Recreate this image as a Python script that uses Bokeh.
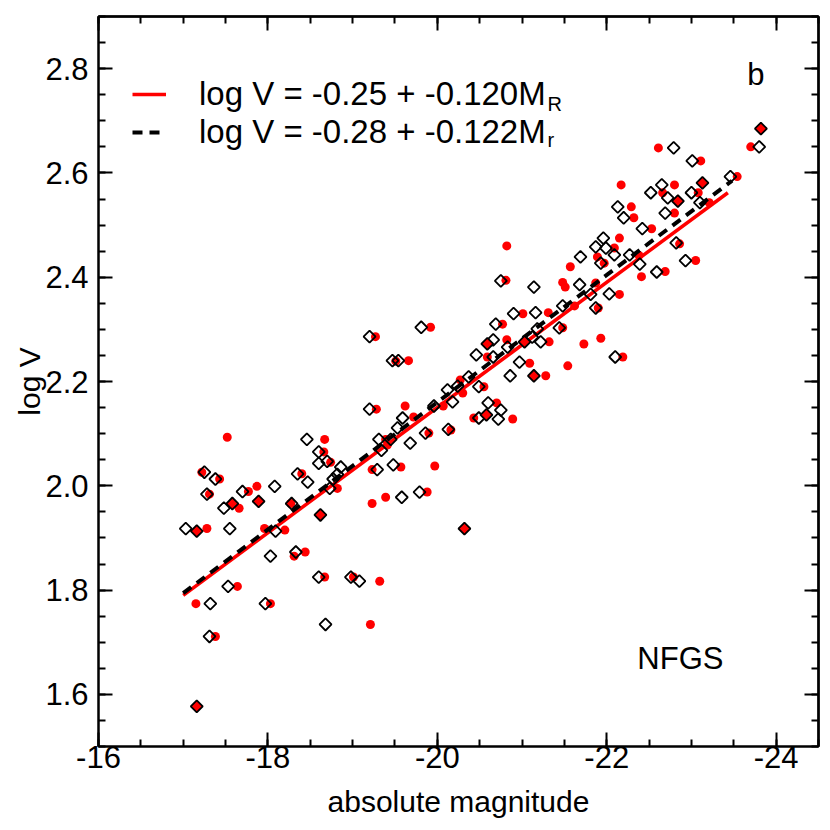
import numpy as np
from bokeh.plotting import figure
from bokeh.models import Range1d, FixedTicker, LinearAxis, Legend, LegendItem, Label
from bokeh.embed import file_html
from bokeh.resources import INLINE

# ---------------- data ----------------
# R band: red filled circles (absolute magnitude, log V)
r_mag = [-17.28, -17.15, -17.38, -17.22, -17.52, -17.43, -17.31, -17.77, -17.87, -17.66,
         -17.96, -18.20, -18.31, -18.44, -17.64, -18.03, -18.67, -19.01, -19.32, -19.21,
         -18.40, -18.27, -18.67, -18.66, -18.74, -18.82, -19.28, -19.39, -19.23, -19.23,
         -19.39, -19.27, -19.51, -19.66, -19.92, -20.81, -21.48, -21.51, -22.15, -21.90,
         -21.62, -21.01, -21.31, -20.77, -21.48, -21.32, -21.73, -21.93, -20.82, -20.59,
         -21.09, -21.28, -21.54, -22.19, -20.27, -20.55, -19.62, -20.07, -20.30, -20.70,
         -20.43, -20.89, -19.72, -19.90, -20.16, -19.57, -19.97, -19.88, -19.41, -20.82,
         -21.57, -23.70, -22.61, -23.11, -23.54, -22.17, -22.80, -22.66, -23.08, -23.21,
         -22.29, -22.32, -22.80, -22.53, -22.15, -22.09, -21.89, -22.38, -21.97, -22.86,
         -23.05, -22.69, -22.41, -21.87]
r_logv = [1.918, 1.774, 1.711, 2.026, 2.093, 2.013, 1.984, 1.989, 1.999, 1.957,
          1.918, 1.915, 1.865, 1.873, 1.807, 1.774, 1.825, 1.825, 1.817, 1.734,
          2.023, 1.966, 2.089, 2.065, 2.045, 1.995, 2.147, 2.089, 2.031, 1.966,
          1.978, 2.286, 2.239, 2.240, 2.304, 2.394, 2.390, 2.381, 2.367, 2.341,
          2.345, 2.330, 2.332, 2.310, 2.303, 2.276, 2.272, 2.283, 2.280, 2.247,
          2.235, 2.211, 2.230, 2.247, 2.203, 2.190, 2.153, 2.153, 2.178, 2.159,
          2.130, 2.128, 2.132, 2.101, 2.107, 2.036, 2.038, 1.988, 2.078, 2.460,
          2.420, 2.650, 2.648, 2.623, 2.593, 2.577, 2.577, 2.562, 2.562, 2.543,
          2.535, 2.514, 2.523, 2.493, 2.475, 2.456, 2.439, 2.442, 2.427, 2.464,
          2.432, 2.411, 2.401, 2.389]

# r band: open black diamonds
d_mag = [-17.03, -17.32, -17.31, -17.25, -17.38, -17.28, -17.70, -18.08, -17.48, -17.55,
         -18.09, -18.03, -18.33, -17.53, -17.97, -18.60, -18.98, -19.08, -18.68, -18.35,
         -18.47, -18.28, -18.46, -18.60, -18.60, -18.70, -18.86, -18.82, -18.73, -18.77,
         -19.20, -19.31, -19.34, -19.29, -19.20, -19.47, -19.54, -19.81, -19.58, -19.79,
         -19.48, -19.68, -19.53, -19.45, -19.59, -19.86, -19.96, -20.13, -20.12, -20.24,
         -20.18, -20.37, -20.49, -20.46, -20.66, -20.66, -20.83, -20.60, -20.75, -20.72,
         -20.49, -20.86, -20.97, -20.69, -20.90, -21.16, -21.18, -21.12, -21.22, -21.44,
         -21.48, -21.87, -21.81, -22.03, -21.68, -21.14, -20.75, -22.10, -22.79, -23.80,
         -23.01, -23.46, -22.65, -22.52, -22.72, -23.00, -23.10, -22.13, -22.20, -22.69,
         -22.42, -21.96, -21.87, -21.99, -22.09, -22.27, -22.39, -21.93, -22.82, -22.93,
         -22.59, -21.69]
d_logv = [1.918, 1.774, 1.711, 2.026, 2.013, 1.984, 1.989, 1.999, 1.957, 1.918,
          1.913, 1.865, 1.873, 1.807, 1.774, 1.825, 1.825, 1.817, 1.734, 2.023,
          2.007, 1.966, 2.089, 2.065, 2.043, 2.047, 2.036, 2.022, 1.995, 2.013,
          2.147, 2.089, 2.068, 2.031, 2.286, 2.240, 2.240, 2.304, 1.978, 1.988,
          2.040, 2.082, 2.111, 2.089, 2.130, 2.101, 2.153, 2.108, 2.184, 2.191,
          2.161, 2.209, 2.190, 2.251, 2.247, 2.280, 2.266, 2.159, 2.145, 2.128,
          2.130, 2.211, 2.237, 2.310, 2.330, 2.332, 2.301, 2.285, 2.276, 2.303,
          2.345, 2.341, 2.367, 2.368, 2.386, 2.381, 2.393, 2.247, 2.648, 2.650,
          2.623, 2.593, 2.577, 2.562, 2.552, 2.562, 2.543, 2.535, 2.514, 2.523,
          2.493, 2.475, 2.458, 2.456, 2.443, 2.443, 2.425, 2.427, 2.466, 2.432,
          2.410, 2.439]

# galaxies where both symbols coincide (red-filled diamonds)
f_mag = [-17.16, -17.58, -17.89, -18.62, -17.16, -20.32, -20.59, -21.03, -21.14, -20.58,
         -23.82, -23.13, -22.84]
f_logv = [1.913, 1.966, 1.970, 1.944, 1.577, 1.918, 2.272, 2.276, 2.211, 2.136,
          2.685, 2.581, 2.546]

# fitted relations (end points)
fitR_mag = [-17.0, -23.43]
fitR_logv = [1.790, 2.562]
fitr_mag = [-17.0, -23.48]
fitr_logv = [1.794, 2.585]

x_ticks = [-16, -18, -20, -22, -24]
x_tick_labels = ["-16", "-18", "-20", "-22", "-24"]
y_ticks = [1.6, 1.8, 2.0, 2.2, 2.4, 2.6, 2.8]
y_tick_labels = ["1.6", "1.8", "2.0", "2.2", "2.4", "2.6", "2.8"]

FONT = "Liberation Sans"
FS = "31px"

p = figure(width=822, height=822, output_backend="svg", toolbar_location=None,
           x_range=Range1d(-16, -24.5), y_range=Range1d(1.5, 2.9),
           min_border_left=98, min_border_right=4, min_border_top=16, min_border_bottom=76)
p.xgrid.visible = False
p.ygrid.visible = False
p.outline_line_color = "black"
p.outline_line_width = 2
p.background_fill_color = "white"
p.border_fill_color = "white"

x_minor = [float(v) for v in np.arange(-16, -24.51, -0.5)]
y_minor = [float(v) for v in np.round(np.arange(1.5, 2.901, 0.05), 2)]


def base_style(ax):
    ax.major_tick_out = 0
    ax.minor_tick_out = 0
    ax.major_tick_line_width = 2
    ax.minor_tick_line_width = 2
    ax.major_tick_line_color = "black"
    ax.minor_tick_line_color = "black"
    ax.axis_line_width = 2
    ax.axis_line_color = "black"


def style(ax, ticks, minor, labels):
    base_style(ax)
    ax.ticker = FixedTicker(ticks=ticks, minor_ticks=minor)
    ax.major_label_overrides = {t: l for t, l in zip(ticks, labels)}
    ax.major_tick_in = 14
    ax.minor_tick_in = 7
    ax.major_label_text_font = FONT
    ax.major_label_text_color = "black"
    ax.major_label_text_font_size = FS


def mirror(side, ticks, minor):
    # tick-only axes (no labels): one for minor-length, one for major-length ticks
    for pos, length in ((minor, 7), (ticks, 14)):
        ax = LinearAxis(ticker=FixedTicker(ticks=[], minor_ticks=pos))
        base_style(ax)
        ax.minor_tick_in = length
        ax.major_tick_in = 0
        ax.major_label_standoff = 0
        p.add_layout(ax, side)


style(p.xaxis[0], x_ticks, x_minor, x_tick_labels)
style(p.yaxis[0], y_ticks, y_minor, y_tick_labels)
p.xaxis[0].major_label_standoff = -1
p.yaxis[0].major_label_standoff = 10
p.xaxis[0].axis_label = "absolute magnitude"
p.yaxis[0].axis_label = "log V"
for ax in (p.xaxis[0], p.yaxis[0]):
    ax.axis_label_text_font = FONT
    ax.axis_label_text_font_size = "30px"
    ax.axis_label_text_font_style = "normal"
    ax.axis_label_text_color = "black"
p.xaxis[0].axis_label_standoff = 14
p.yaxis[0].axis_label_standoff = -4

mirror("above", x_ticks, x_minor)
mirror("right", y_ticks, y_minor)

# points
p.scatter(r_mag, r_logv, marker="circle", size=9, fill_color="red", line_color=None)
lr = p.line(fitR_mag, fitR_logv, line_color="red", line_width=3.5)
lb = p.line(fitr_mag, fitr_logv, line_color="black", line_width=4, line_dash="10 7")
p.scatter(d_mag, d_logv, marker="square", angle=np.pi / 4, size=8.5,
          fill_color=None, line_color="black", line_width=1.8)
p.scatter(f_mag, f_logv, marker="square", angle=np.pi / 4, size=8.5,
          fill_color="red", line_color="black", line_width=1.8)

legend = Legend(items=[LegendItem(label="log V = -0.25 + -0.120M", renderers=[lr]),
                       LegendItem(label="log V = -0.28 + -0.122M", renderers=[lb])],
                location=(34, 595), glyph_width=34, glyph_height=36, label_height=36,
                label_standoff=33, spacing=0, padding=0, margin=0,
                border_line_color=None, background_fill_alpha=0,
                label_text_font=FONT, label_text_font_size="33px", label_text_color="black")
p.add_layout(legend)

p.add_layout(Label(x=-21.30, y=2.711, text="R", text_font=FONT, text_font_size="20px",
                   text_color="black"))
p.add_layout(Label(x=-21.30, y=2.642, text="r", text_font=FONT, text_font_size="20px",
                   text_color="black"))
p.add_layout(Label(x=-23.76, y=2.788, text="b", text_font=FONT, text_font_size=FS,
                   text_align="center", text_baseline="middle", text_color="black"))
p.add_layout(Label(x=-22.87, y=1.668, text="NFGS", text_font=FONT, text_font_size=FS,
                   text_align="center", text_baseline="middle", text_color="black"))

open("out.html", "w").write(file_html(p, INLINE))
